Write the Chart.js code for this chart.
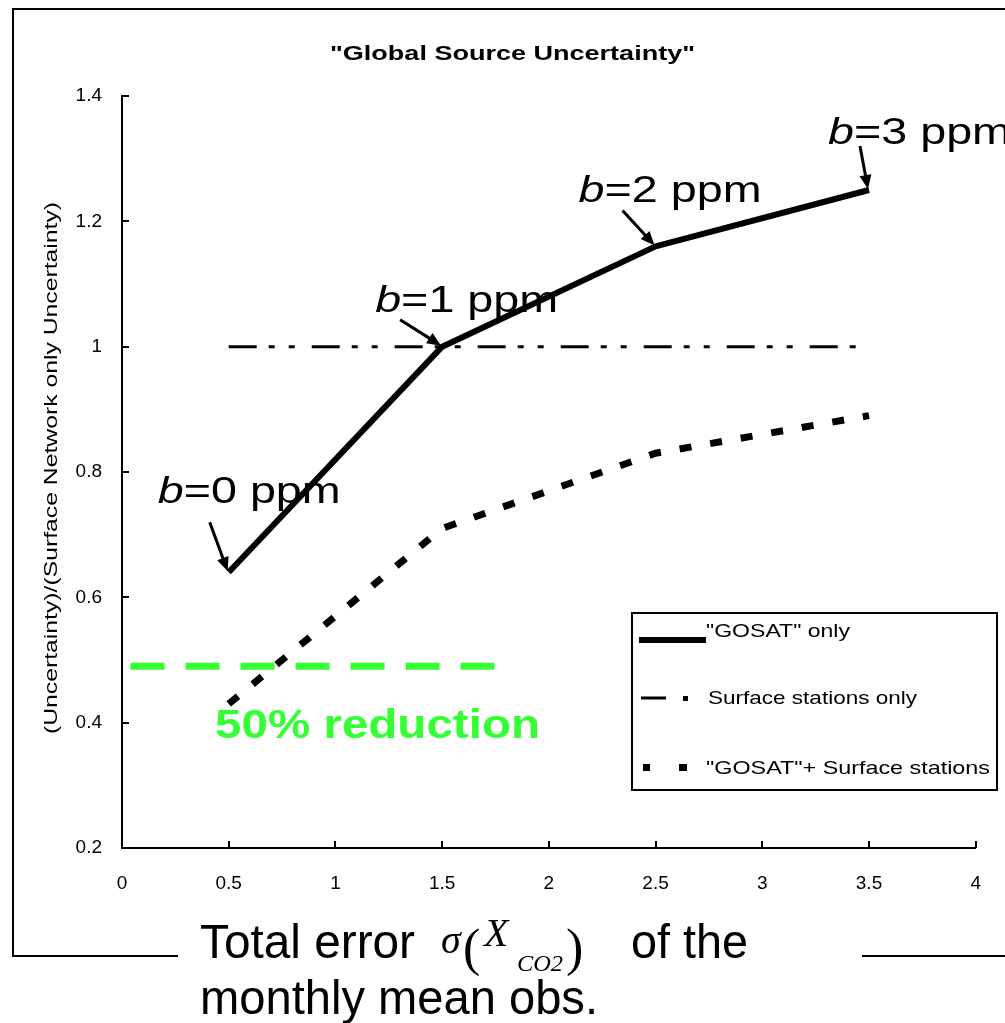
<!DOCTYPE html>
<html>
<head>
<meta charset="utf-8">
<script src="https://cdn.jsdelivr.net/npm/chart.js@4.4.1/dist/chart.umd.min.js"></script>
<style>
  html, body { margin: 0; padding: 0; background: #fff; }
  canvas { display: block; }
</style>
</head>
<body>
<canvas id="chart" width="1005" height="1023"></canvas>
<script>
// values
const xValues = [0.5, 1.5, 2.5, 3.5];
const gosatOnly = [0.64, 1.0, 1.16, 1.25];
const gosatPlusSurface = [0.43, 0.71, 0.83, 0.89];
const surfaceX = [0.5, 3.5];
const surfaceOnly = [1.0, 1.0];
const reductionX = [0.04, 1.77];
const reductionY = [0.49, 0.49];
const biasValues = ['0', '1', '2', '3'];
const seriesNames = ['"GOSAT" only', 'Surface stations only', '"GOSAT"+ Surface stations'];

const SANS = '"Liberation Sans", Arial, sans-serif';
const SERIF = '"Liberation Serif", "DejaVu Serif", serif';
const SURF_DASH = [28, 12, 6, 14, 6, 17];
const DOT_DASH = [12, 19];

const pts = (xs, ys) => xs.map((x, i) => ({ x: x, y: ys[i] }));
const tickText = v => String(Math.round(v * 10) / 10);

// draw text stretched to a given width (the original font is wide-set)
function wideText(ctx, text, x, y, width) {
    const w = ctx.measureText(text).width;
    ctx.save();
    ctx.translate(x, y);
    ctx.scale(width / w, 1);
    ctx.fillText(text, 0, 0);
    ctx.restore();
}

function arrow(ctx, x0, y0, x1, y1) {
    const a = Math.atan2(y1 - y0, x1 - x0);
    ctx.beginPath();
    ctx.moveTo(x0, y0);
    ctx.lineTo(x1 - 8 * Math.cos(a), y1 - 8 * Math.sin(a));
    ctx.lineWidth = 3;
    ctx.stroke();
    ctx.beginPath();
    ctx.moveTo(x1, y1);
    ctx.lineTo(x1 - 14 * Math.cos(a) + 6 * Math.sin(a), y1 - 14 * Math.sin(a) - 6 * Math.cos(a));
    ctx.lineTo(x1 - 14 * Math.cos(a) - 6 * Math.sin(a), y1 - 14 * Math.sin(a) + 6 * Math.cos(a));
    ctx.closePath();
    ctx.fill();
}

// text offsets / arrow tails relative to each "GOSAT" only point
const biasLayout = [
    { tx: -71, ty: -69, ax: -19, ay: -50 },
    { tx: -67, ty: -35, ax: -42, ay: -27 },
    { tx: -77, ty: -44, ax: -33, ay: -36 },
    { tx: -41, ty: -46, ax: -9, ay: -44 }
];

const overlay = {
    id: 'overlay',
    afterDraw(chart) {
        const ctx = chart.ctx;
        const xs = chart.scales.x, ys = chart.scales.y;
        const area = chart.chartArea;
        ctx.save();
        ctx.fillStyle = '#000';
        ctx.strokeStyle = '#000';

        // outer frame
        ctx.lineWidth = 2;
        ctx.beginPath();
        ctx.moveTo(178, 956); ctx.lineTo(13, 956); ctx.lineTo(13, 9); ctx.lineTo(1005, 9);
        ctx.moveTo(862, 956); ctx.lineTo(1005, 956);
        ctx.stroke();

        // inward tick marks
        ctx.lineWidth = 2;
        ctx.beginPath();
        ys.ticks.forEach(t => {
            const y = Math.round(ys.getPixelForValue(t.value));
            ctx.moveTo(area.left, y); ctx.lineTo(area.left + 7, y);
        });
        xs.ticks.forEach(t => {
            const x = Math.round(xs.getPixelForValue(t.value));
            ctx.moveTo(x, area.bottom); ctx.lineTo(x, area.bottom - 7);
        });
        ctx.stroke();

        // title
        ctx.textAlign = 'left';
        ctx.textBaseline = 'alphabetic';
        ctx.font = 'bold 20px ' + SANS;
        wideText(ctx, '"Global Source Uncertainty"', 330, 60, 365);

        // y axis title
        ctx.save();
        ctx.translate(57, 734);
        ctx.rotate(-Math.PI / 2);
        ctx.font = '19px ' + SANS;
        wideText(ctx, '(Uncertainty)/(Surface Network only Uncertainty)', 0, 0, 532);
        ctx.restore();

        // x axis title
        ctx.font = '48px ' + SANS;
        wideText(ctx, 'Total error', 200, 958, 215);
        wideText(ctx, 'of the', 631, 958, 117);
        wideText(ctx, 'monthly mean obs.', 200, 1014, 398);
        ctx.font = 'italic 40px ' + SERIF;
        ctx.fillText('\u03c3', 441, 953);
        ctx.font = 'italic 40px ' + SERIF;
        ctx.fillText('X', 484, 946);
        ctx.font = 'italic 24px ' + SERIF;
        wideText(ctx, 'CO2', 517, 971, 46);
        ctx.font = '52px ' + SERIF;
        ctx.fillText('(', 463, 965);
        ctx.fillText(')', 566, 965);

        // bias labels with arrows
        const meta = chart.getDatasetMeta(0);
        meta.data.forEach((p, i) => {
            const L = biasLayout[i];
            ctx.font = 'italic 37px ' + SANS;
            const wb = ctx.measureText('b').width;
            ctx.font = '37px ' + SANS;
            const rest = '=' + biasValues[i] + ' ppm';
            const wr = ctx.measureText(rest).width;
            const s = 183 / (wb + wr);
            ctx.save();
            ctx.translate(p.x + L.tx, p.y + L.ty);
            ctx.scale(s, 1);
            ctx.font = 'italic 37px ' + SANS;
            ctx.fillText('b', 0, 0);
            ctx.font = '37px ' + SANS;
            ctx.fillText(rest, wb, 0);
            ctx.restore();
            arrow(ctx, p.x + L.ax, p.y + L.ay, p.x - 1, p.y - 1);
        });

        // 50% reduction label
        ctx.fillStyle = '#33ff33';
        ctx.font = 'bold 40px ' + SANS;
        wideText(ctx, '50% reduction', 215, 738, 325);

        // legend
        ctx.fillStyle = '#000';
        ctx.lineWidth = 2;
        ctx.strokeRect(632, 613, 365, 177);
        ctx.font = '19px ' + SANS;
        wideText(ctx, seriesNames[0], 706, 637, 144);
        wideText(ctx, seriesNames[1], 708, 704, 209);
        wideText(ctx, seriesNames[2], 706, 774, 284);
        ctx.lineWidth = 6;
        ctx.beginPath(); ctx.moveTo(639, 640); ctx.lineTo(706, 640); ctx.stroke();
        ctx.lineWidth = 3;
        ctx.beginPath(); ctx.moveTo(641, 698); ctx.lineTo(666, 698); ctx.stroke();
        ctx.fillRect(683, 696, 5, 5);
        ctx.fillRect(643, 764, 7, 7);
        ctx.fillRect(679, 764, 8, 7);

        ctx.restore();
    }
};

new Chart(document.getElementById('chart'), {
    type: 'line',
    data: {
        datasets: [
            {
                label: seriesNames[0],
                data: pts(xValues, gosatOnly),
                borderColor: '#000',
                borderWidth: 6,
                borderJoinStyle: 'round'
            },
            {
                label: seriesNames[1],
                data: pts(surfaceX, surfaceOnly),
                borderColor: '#000',
                borderWidth: 3,
                borderDash: SURF_DASH
            },
            {
                label: seriesNames[2],
                data: pts(xValues, gosatPlusSurface),
                borderColor: '#000',
                borderWidth: 7,
                borderDash: DOT_DASH
            },
            {
                label: '50% reduction',
                data: pts(reductionX, reductionY),
                borderColor: '#33ff33',
                borderWidth: 7,
                borderDash: [34, 21]
            }
        ]
    },
    options: {
        responsive: false,
        animation: false,
        events: [],
        elements: { point: { radius: 0 }, line: { tension: 0 } },
        layout: { padding: { left: 0, top: 96, right: 23, bottom: 100 } },
        plugins: { legend: { display: false }, tooltip: { enabled: false } },
        scales: {
            x: {
                type: 'linear',
                min: 0,
                max: 4,
                afterFit: s => { s.height = 75; },
                grid: { display: false, drawTicks: false },
                border: { display: true, color: '#000', width: 2 },
                ticks: {
                    stepSize: 0.5,
                    padding: 24,
                    maxRotation: 0,
                    color: '#000',
                    font: { family: SANS, size: 19 },
                    callback: tickText
                }
            },
            y: {
                type: 'linear',
                min: 0.2,
                max: 1.4,
                afterFit: s => { s.width = 122; },
                grid: { display: false, drawTicks: false },
                border: { display: true, color: '#000', width: 2 },
                ticks: {
                    stepSize: 0.2,
                    padding: 20,
                    color: '#000',
                    font: { family: SANS, size: 19 },
                    callback: tickText
                }
            }
        }
    },
    plugins: [overlay]
});
</script>
</body>
</html>
